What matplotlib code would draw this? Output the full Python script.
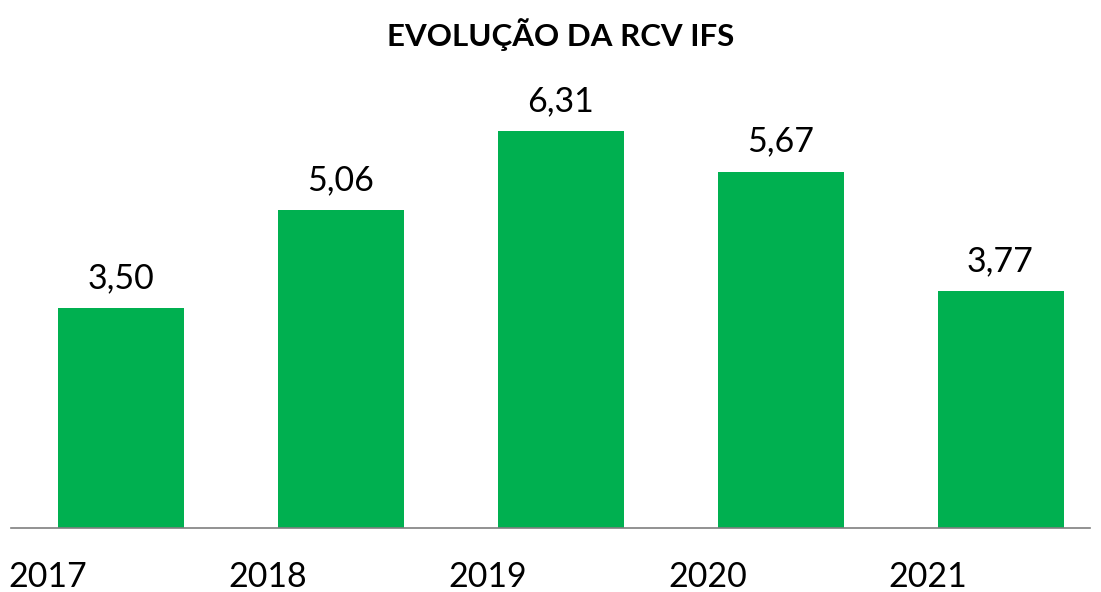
import matplotlib.pyplot as plt

years = ['2017', '2018', '2019', '2020', '2021']
rcv = [3.50, 5.06, 6.31, 5.67, 3.77]
title = 'EVOLUÇÃO DA RCV IFS'

plt.rcParams['font.family'] = ['Lato', 'DejaVu Sans']

W, H = 1101, 592
fig = plt.figure(figsize=(W / 100, H / 100), dpi=100)

# axes placed in pixel terms: baseline at y=528, 62.86 px per unit
px_unit = 62.86
ymax = 7.0
left, right = 10.5, 1090
base = 528
ax = fig.add_axes([left / W, 1 - base / H, (right - left) / W, ymax * px_unit / H])

x = list(range(len(years)))
ax.bar(x, rcv, width=126 / 220, color='#00B050')
ax.set_xlim(-0.5, -0.5 + (right - left) / 220)
ax.set_ylim(0, ymax)

for i, v in zip(x, rcv):
    ax.text(i, v + 0.22, f'{v:.2f}'.replace('.', ','), ha='center', va='bottom',
            fontsize=24.5, color='black')

# year labels sit left of bar centre
for i, y in zip(x, years):
    ax.text(i - 0.33, -0.78, y, ha='center', va='center', fontsize=24.5, color='black')

for s in ['top', 'right', 'left']:
    ax.spines[s].set_visible(False)
ax.spines['bottom'].set_color('#7f7f7f')
ax.spines['bottom'].set_linewidth(1.2)
ax.set_xticks([])
ax.set_yticks([])

fig.text(561 / W, 1 - 35 / H, title, ha='center', va='center', fontsize=22.5,
         fontweight='bold')

fig.savefig('out.png', dpi=100)
